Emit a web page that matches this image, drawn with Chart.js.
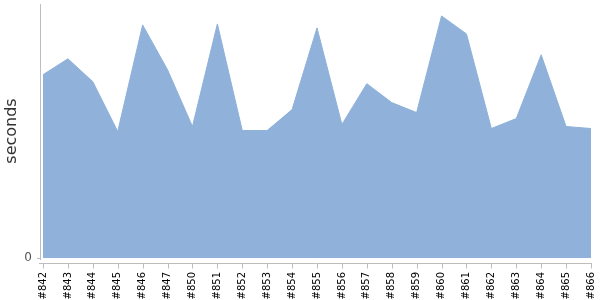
<!DOCTYPE html>
<html>
<head>
<meta charset="utf-8">
<script src="https://cdn.jsdelivr.net/npm/chart.js@4/dist/chart.umd.min.js"></script>
<style>
  html, body { margin: 0; padding: 0; background: #fff; }
  #wrap { width: 600px; height: 300px; }
</style>
</head>
<body>
<div id="wrap"><canvas id="chart"></canvas></div>
<script>
// build labels and durations
var builds = ['#842', '#843', '#844', '#845', '#846', '#847', '#850', '#851', '#852', '#853', '#854', '#855',
              '#856', '#857', '#858', '#859', '#860', '#861', '#862', '#863', '#864', '#865', '#866'];
var seconds = [184, 200, 177, 127, 234, 189, 132, 235, 128, 128, 149, 231,
               134, 175, 156, 146, 243, 225, 130, 140, 204, 132, 130];
var yTicks = [0];

var axisColor = '#bdbdbd';

// the axis lines sit a few pixels away from the plot, like the original
var detachedAxes = {
    id: 'detachedAxes',
    afterDraw: function(chart) {
        var ctx = chart.ctx;
        var area = chart.chartArea;
        var xs = chart.scales.x;
        var ys = chart.scales.y;
        ctx.save();
        ctx.strokeStyle = axisColor;
        ctx.lineWidth = 1;
        ctx.beginPath();
        // y axis
        ctx.moveTo(area.left - 2.5, area.top);
        ctx.lineTo(area.left - 2.5, area.bottom + 2);
        // y tick at 0
        var y0 = Math.round(ys.getPixelForValue(0)) + 0.5;
        ctx.moveTo(area.left - 6, y0);
        ctx.lineTo(area.left - 2.5, y0);
        // x axis
        var xb = area.bottom + 5.5;
        ctx.moveTo(area.left - 4, xb);
        ctx.lineTo(area.right + 1, xb);
        for (var i = 0; i < builds.length; i++) {
            var px = Math.round(xs.getPixelForTick(i)) + 0.5;
            ctx.moveTo(px, xb);
            ctx.lineTo(px, xb + 5);
        }
        ctx.stroke();
        ctx.restore();
    }
};

var ctx = document.getElementById('chart').getContext('2d');

var chart = new Chart(ctx, {
    type: 'line',
    data: {
        labels: builds,
        datasets: [{
            data: seconds,
            fill: 'origin',
            backgroundColor: '#8fb1da',
            borderColor: '#8fb1da',
            borderWidth: 1,
            pointRadius: 0,
            tension: 0
        }]
    },
    options: {
        responsive: true,
        maintainAspectRatio: false,
        animation: false,
        layout: { padding: { top: 4, right: 9, left: 0, bottom: 0 } },
        plugins: {
            legend: { display: false },
            tooltip: { enabled: false }
        },
        scales: {
            x: {
                offset: false,
                afterFit: function(axis) {
                    axis.height = 42;
                    axis.paddingLeft = 0;
                    axis.paddingRight = 0;
                },
                grid: { display: false, drawTicks: true, tickLength: 10, color: 'rgba(0,0,0,0)' },
                border: { display: false },
                ticks: {
                    color: '#000',
                    font: { family: 'DejaVu Sans', size: 10 },
                    minRotation: 90,
                    maxRotation: 90,
                    autoSkip: false,
                    padding: 4
                }
            },
            y: {
                min: 0,
                max: 255,
                afterBuildTicks: function(axis) {
                    axis.ticks = yTicks.map(function(v) { return { value: v }; });
                },
                afterFit: function(axis) {
                    axis.width = 43;
                    axis.paddingTop = 0;
                    axis.paddingBottom = 0;
                },
                grid: { display: false, drawTicks: true, tickLength: 8, color: 'rgba(0,0,0,0)' },
                border: { display: false },
                ticks: {
                    color: '#555',
                    font: { family: 'DejaVu Sans', size: 12 },
                    padding: 3
                },
                title: {
                    display: true,
                    text: 'seconds',
                    color: '#333',
                    font: { family: 'DejaVu Sans', size: 16 },
                    padding: { top: 2, bottom: 0 }
                }
            }
        }
    },
    plugins: [detachedAxes]
});
</script>
</body>
</html>
